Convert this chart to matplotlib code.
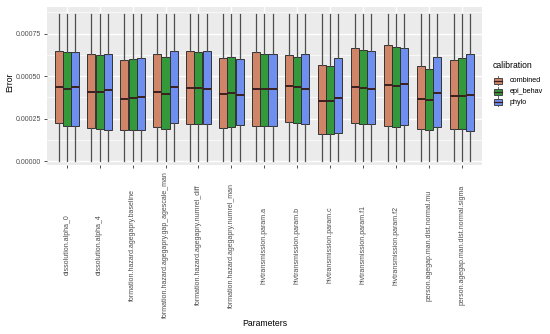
import matplotlib
matplotlib.use("Agg")
import matplotlib.pyplot as plt
import numpy as np

plt.rcParams['font.family'] = ['Liberation Sans', 'DejaVu Sans']

params = ["dissolution.alpha_0", "dissolution.alpha_4",
          "formation.hazard.agegapry.baseline",
          "formation.hazard.agegapry.gap_agescale_man",
          "formation.hazard.agegapry.numrel_diff",
          "formation.hazard.agegapry.numrel_man",
          "hivtransmission.param.a", "hivtransmission.param.b",
          "hivtransmission.param.c", "hivtransmission.param.f1",
          "hivtransmission.param.f2",
          "person.agegap.man.dist.normal.mu",
          "person.agegap.man.dist.normal.sigma"]
calibrations = ["combined", "epi_behav", "phylo"]

# quartiles per calibration
q1 = {
    "combined":  [0.000224, 0.000192, 0.000181, 0.000198, 0.000219, 0.000196, 0.000206,
                  0.000228, 0.000159, 0.000222, 0.000206, 0.000190, 0.000186],
    "epi_behav": [0.000208, 0.000188, 0.000184, 0.000186, 0.000216, 0.000202, 0.000206,
                  0.000225, 0.000159, 0.000216, 0.000200, 0.000182, 0.000186],
    "phylo":     [0.000208, 0.000184, 0.000182, 0.000222, 0.000218, 0.000212, 0.000208,
                  0.000216, 0.000163, 0.000218, 0.000214, 0.000198, 0.000176],
}
med = {
    "combined":  [0.000435, 0.000408, 0.000366, 0.000406, 0.000427, 0.000392, 0.000425,
                  0.000439, 0.000351, 0.000435, 0.000449, 0.000365, 0.000382],
    "epi_behav": [0.000425, 0.000406, 0.000369, 0.000394, 0.000429, 0.000400, 0.000422,
                  0.000433, 0.000355, 0.000427, 0.000439, 0.000357, 0.000380],
    "phylo":     [0.000433, 0.000416, 0.000376, 0.000437, 0.000422, 0.000386, 0.000424,
                  0.000425, 0.000371, 0.000422, 0.000455, 0.000398, 0.000386],
}
q3 = {
    "combined":  [0.000649, 0.000627, 0.000596, 0.000631, 0.000647, 0.000608, 0.000639,
                  0.000622, 0.000567, 0.000663, 0.000680, 0.000561, 0.000596],
    "epi_behav": [0.000643, 0.000623, 0.000602, 0.000614, 0.000639, 0.000614, 0.000631,
                  0.000610, 0.000559, 0.000655, 0.000672, 0.000541, 0.000604],
    "phylo":     [0.000643, 0.000629, 0.000604, 0.000647, 0.000649, 0.000600, 0.000629,
                  0.000627, 0.000608, 0.000649, 0.000667, 0.000612, 0.000631],
}
whisk_lo = 0.0
whisk_hi = 0.000865

colors = {"combined": "#D08468", "epi_behav": "#33993A", "phylo": "#6E8EF0"}

fig = plt.figure(figsize=(5.5, 3.34), dpi=100)
ax = fig.add_axes([0.0855, 0.506, 0.79, 0.473])
ax.set_facecolor("#EBEBEB")

x = np.arange(1, len(params) + 1)
ax.set_xlim(0.4, len(params) + 0.6)
ax.set_ylim(-0.0000235, 0.000906)

# grid
for yv in [0.000125, 0.000375, 0.000625, 0.000875]:
    ax.axhline(yv, color="white", lw=0.5, zorder=0)
for yv in [0, 0.00025, 0.0005, 0.00075]:
    ax.axhline(yv, color="white", lw=1.0, zorder=0)
for xv in x:
    ax.axvline(xv, color="white", lw=1.0, zorder=0)

width = 0.25
for j, cal in enumerate(calibrations):
    stats = []
    for i in range(len(params)):
        stats.append({"q1": q1[cal][i], "med": med[cal][i], "q3": q3[cal][i],
                      "whislo": whisk_lo, "whishi": whisk_hi, "fliers": []})
    pos = x + (j - 1) * width
    ax.bxp(stats, positions=pos, widths=width * 0.98, patch_artist=True,
           showcaps=False, showfliers=False, manage_ticks=False,
           boxprops=dict(facecolor=colors[cal], edgecolor="#333333", linewidth=0.7),
           whiskerprops=dict(color="#4d4d4d", linewidth=0.9),
           medianprops=dict(color="#3a2020", linewidth=1.4))

for s in ax.spines.values():
    s.set_visible(False)

ax.set_yticks([0, 0.00025, 0.0005, 0.00075])
ax.set_yticklabels(["0.00000", "0.00025", "0.00050", "0.00075"])
ax.set_xticks(x)
ax.set_xticklabels([])
ax.tick_params(axis="both", length=2.5, width=0.6, color="#333333",
               labelsize=5, labelcolor="#4d4d4d", pad=2)

# rotated category labels, centred vertically like ggplot angle=90
for xv, lab in zip(x, params):
    xf = ax.transData.transform((xv, 0))[0] / fig.bbox.width
    fig.text(xf, 1 - 245 / 334, lab, rotation=90, ha="center", va="center",
             fontsize=5, color="#4d4d4d")

fig.text(264.5 / 550, 1 - 323 / 334, "Parameters", ha="center", va="center", fontsize=6.2)
fig.text(10 / 550, 1 - 82 / 334, "Error", rotation=90, ha="center", va="center", fontsize=6.2)

# legend
fig.text(493 / 550, 1 - 65 / 334, "calibration", ha="left", va="center", fontsize=6.2)
for k, cal in enumerate(calibrations):
    yk = 81 + k * 10.5
    kax = fig.add_axes([492 / 550, 1 - (yk + 5) / 334, 12 / 550, 10 / 334])
    kax.set_xlim(0, 1)
    kax.set_ylim(0, 1)
    kax.axis("off")
    kax.add_patch(plt.Rectangle((0.15, 0.2), 0.7, 0.6, facecolor=colors[cal],
                                edgecolor="#333333", lw=0.6))
    kax.plot([0.5, 0.5], [0, 0.2], color="#4d4d4d", lw=0.6)
    kax.plot([0.5, 0.5], [0.8, 1], color="#4d4d4d", lw=0.6)
    kax.plot([0.15, 0.85], [0.5, 0.5], color="#3a2020", lw=0.9)
    fig.text(510 / 550, 1 - yk / 334, cal, ha="left", va="center", fontsize=5.2)

fig.savefig("out.png", dpi=100)
